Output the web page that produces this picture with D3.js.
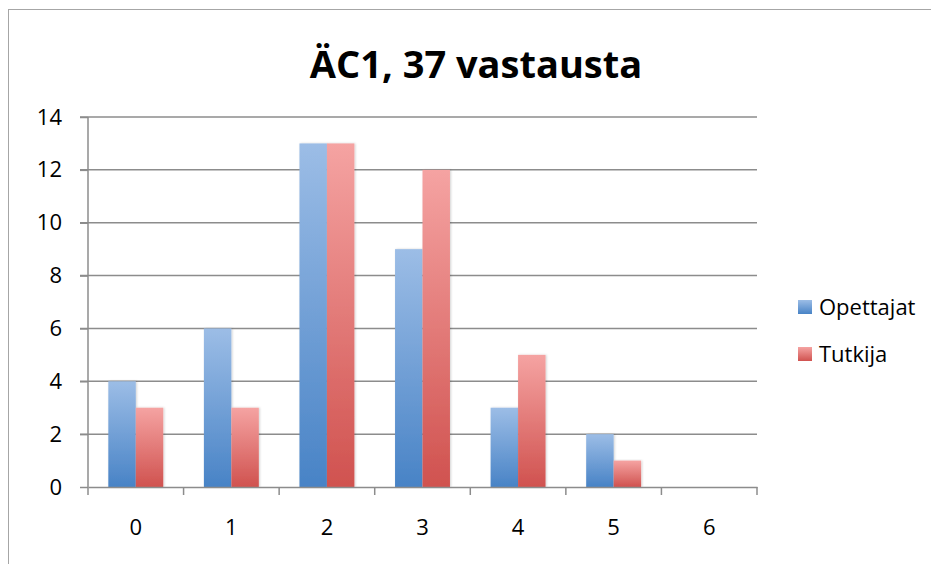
<!DOCTYPE html>
<html lang="fi">
<head>
<meta charset="UTF-8">
<title>ÄC1</title>
<script src="https://cdnjs.cloudflare.com/ajax/libs/d3/7.8.5/d3.min.js"></script>
<style>
    body { margin: 0; background: #fff; }
    text { font-family: "Open Sans", "Noto Sans", sans-serif; fill: #000; }
    .grid line { stroke: #8c8c8c; stroke-width: 1.5px; }
    .axis path, .axis line { stroke: #8c8c8c; stroke-width: 1.5px; }
</style>
</head>
<body>
<script>
    // data
    var categories = ["0", "1", "2", "3", "4", "5", "6"];
    var opettajat = [4, 6, 13, 9, 3, 2, 0];
    var tutkija = [3, 3, 13, 12, 5, 1, 0];
    var seriesNames = ["Opettajat", "Tutkija"];
    var yTicks = [0, 2, 4, 6, 8, 10, 12, 14];

    var W = 931, H = 564;
    var margin = {top: 117, left: 88, right: W - 757, bottom: H - 487};
    var width = W - margin.left - margin.right,
        height = H - margin.top - margin.bottom;

    var svg = d3.select("body").append("svg")
        .attr("width", W).attr("height", H);

    var defs = svg.append("defs");
    var gradBlue = defs.append("linearGradient").attr("id", "gBlue")
        .attr("x1", 0).attr("y1", 0).attr("x2", 0).attr("y2", 1);
    gradBlue.append("stop").attr("offset", "0%").attr("stop-color", "#9cbde6");
    gradBlue.append("stop").attr("offset", "100%").attr("stop-color", "#4883c6");
    var gradRed = defs.append("linearGradient").attr("id", "gRed")
        .attr("x1", 0).attr("y1", 0).attr("x2", 0).attr("y2", 1);
    gradRed.append("stop").attr("offset", "0%").attr("stop-color", "#f5a3a2");
    gradRed.append("stop").attr("offset", "100%").attr("stop-color", "#d0524f");
    var shadow = defs.append("filter").attr("id", "shadow")
        .attr("x", "-20%").attr("y", "-5%").attr("width", "150%").attr("height", "115%");
    shadow.append("feDropShadow").attr("dx", 1).attr("dy", 0).attr("stdDeviation", 1.2)
        .attr("flood-color", "#000").attr("flood-opacity", 0.18);

    // frame
    svg.append("rect")
        .attr("x", 8.5).attr("y", 9.5).attr("width", W).attr("height", H)
        .attr("fill", "none").attr("stroke", "#a6a6a6").attr("stroke-width", 1);

    var g = svg.append("g")
        .attr("transform", "translate(" + margin.left + "," + margin.top + ")");

    var x = d3.scaleBand().domain(categories).range([0, width]).paddingInner(0).paddingOuter(0);
    var x1 = d3.scaleBand().domain(seriesNames).range([0, x.bandwidth()]).paddingInner(0).paddingOuter(0.74);
    var y = d3.scaleLinear().domain([0, 14]).range([height, 0]);

    // gridlines
    g.append("g").attr("class", "grid")
        .selectAll("line").data(yTicks.filter(function(d) { return d > 0; })).enter()
        .append("line")
        .attr("x1", -8).attr("x2", width)
        .attr("y1", function(d) { return y(d); })
        .attr("y2", function(d) { return y(d); });

    // y axis
    var yAxis = g.append("g").attr("class", "axis")
        .call(d3.axisLeft(y).tickValues(yTicks).tickSize(8).tickPadding(18));
    yAxis.select(".domain").attr("d", "M0," + (height) + "V0");
    yAxis.selectAll("text").style("font-size", "22px");

    // bars
    var data = categories.map(function(c, i) {
        return {cat: c, values: [
            {name: "Opettajat", v: opettajat[i]},
            {name: "Tutkija", v: tutkija[i]}
        ]};
    });
    var grp = g.selectAll(".cat").data(data).enter().append("g")
        .attr("transform", function(d) { return "translate(" + x(d.cat) + ",0)"; });
    grp.selectAll("rect").data(function(d) { return d.values.filter(function(s) { return s.v > 0; }); })
        .enter().append("rect")
        .attr("x", function(d) { return x1(d.name); })
        .attr("width", x1.bandwidth())
        .attr("y", function(d) { return y(d.v); })
        .attr("height", function(d) { return height - y(d.v); })
        .attr("fill", function(d) { return d.name === "Opettajat" ? "url(#gBlue)" : "url(#gRed)"; })
        .attr("filter", "url(#shadow)");

    // x axis
    var xAxis = g.append("g").attr("class", "axis")
        .attr("transform", "translate(0," + height + ")")
        .call(d3.axisBottom(x).tickSize(0).tickPadding(32));
    xAxis.selectAll("text").style("font-size", "22px");
    xAxis.selectAll(".sep").data(d3.range(categories.length + 1)).enter()
        .append("line").attr("class", "sep")
        .attr("x1", function(i) { return i * x.bandwidth(); })
        .attr("x2", function(i) { return i * x.bandwidth(); })
        .attr("y1", 0).attr("y2", 8);

    // title
    svg.append("text")
        .attr("x", 476).attr("y", 78)
        .attr("text-anchor", "middle")
        .style("font-size", "38px").style("font-weight", "bold")
        .text("ÄC1, 37 vastausta");

    // legend
    var legend = svg.selectAll(".legend").data(seriesNames).enter().append("g")
        .attr("transform", function(d, i) { return "translate(798," + (300 + i * 47) + ")"; });
    legend.append("rect").attr("width", 14).attr("height", 14)
        .attr("fill", function(d) { return d === "Opettajat" ? "url(#gBlue)" : "url(#gRed)"; });
    legend.append("text").attr("x", 21).attr("y", 15)
        .style("font-size", "22px")
        .text(function(d) { return d; });
</script>
</body>
</html>
